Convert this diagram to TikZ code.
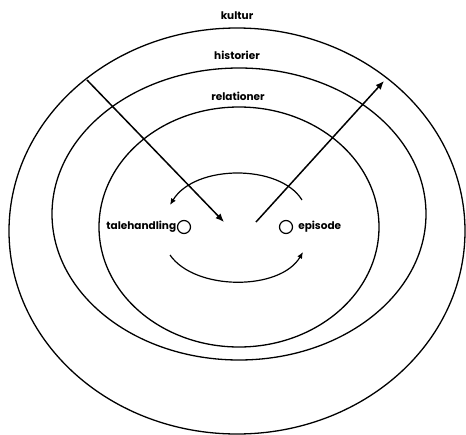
\documentclass[tikz,border=0pt]{standalone}
\usepackage{fontspec}
\setmainfont{Poppins}
\usetikzlibrary{arrows.meta}
\begin{document}
\begin{tikzpicture}[x=1pt,y=-1pt,
  ring/.style={draw=black,line width=1.3pt},
  lbl/.style={font=\bfseries\fontsize{10.5}{12}\selectfont,inner sep=1pt},
  dot/.style={circle,draw=black,line width=1.2pt,minimum size=13pt,inner sep=0pt},
  conn/.style={line width=1.5pt,-{Latex[length=8.5pt,width=7pt]}},
  curv/.style={line width=1.2pt,-{Latex[length=6.5pt,width=5.5pt]}}]
\useasboundingbox (0,0) rectangle (466,434);
% rings
\draw[ring] (237,231) ellipse [x radius=228, y radius=203];
\draw[ring] (239,214) ellipse [x radius=187, y radius=146];
\draw[ring] (239,227) ellipse [x radius=140, y radius=120];
% ring labels
\node[lbl] (kultur) at (237,16) {kultur};
\node[lbl] (historier) at (237,55) {historier};
\node[lbl] (relationer) at (238,96) {relationer};
% small circles and labels
\node[dot] (c1) at (184,227) {};
\node[dot] (c2) at (286,227) {};
\node[lbl,anchor=east,inner sep=0.5pt] (tale) at (c1.west) {talehandling};
\node[lbl,anchor=west,inner sep=2pt] (epi) at ([xshift=3pt]c2.east) {episode};
% arrows
\coordinate (a1s) at (87,80);
\coordinate (a1e) at (224,222);
\coordinate (a2s) at (256,222);
\coordinate (a2e) at (384,81);
\draw[conn] (a1s) -- (a1e);
\draw[conn] (a2s) -- (a2e);
% curved arrows
\coordinate (t1) at (302,200);
\coordinate (t2) at (170,205);
\coordinate (b1) at (170,255);
\coordinate (b2) at (303,252);
\draw[curv] (t1) .. controls (280,164) and (195,164) .. (t2);
\draw[curv] (b1) .. controls (195,291) and (280,291) .. (b2);
\end{tikzpicture}
\end{document}
